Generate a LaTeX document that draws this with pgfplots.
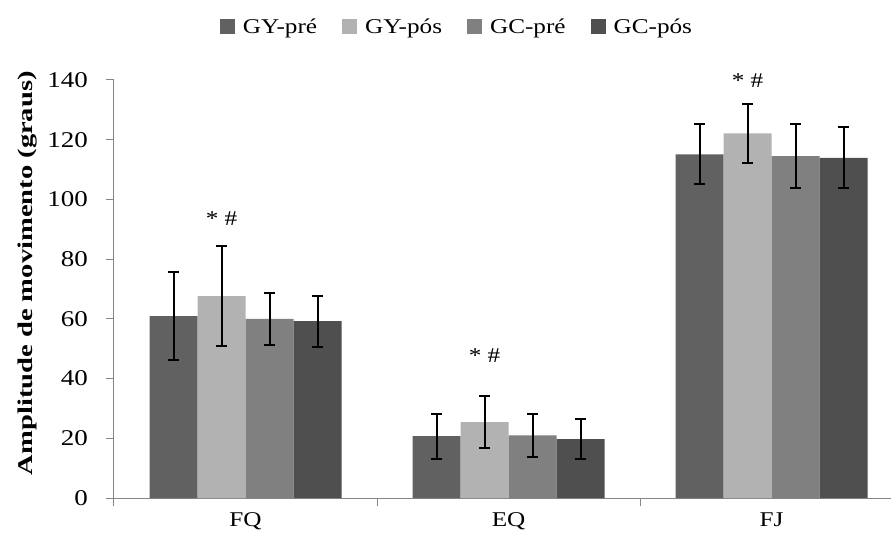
\documentclass[border=0pt]{standalone}
\usepackage{fontspec}
\setmainfont[FakeStretch=1.2]{Liberation Serif}
\newfontfamily\labfont[FakeStretch=1.36]{Liberation Serif}
\usepackage{pgfplots}
\pgfplotsset{compat=1.18}
\definecolor{gypre}{HTML}{616161}
\definecolor{gypos}{HTML}{B2B2B2}
\definecolor{gcpre}{HTML}{808080}
\definecolor{gcpos}{HTML}{4F4F4F}
\definecolor{axgray}{HTML}{868686}
\newcommand\cf{\fontsize{21bp}{25bp}\selectfont}
\begin{document}
\begin{tikzpicture}
\begin{axis}[
    scale only axis,
    width=777bp, height=418bp,
    clip=false,
    ybar=0pt, bar width=0.1825,
    xmin=-0.5, xmax=2.454,
    ymin=0, ymax=140,
    ytick={0,20,...,140},
    xtick={0,1,2}, xticklabels={FQ,EQ,FJ},
    extra x ticks={-0.5,0.5,1.5}, extra x tick labels={},
    major tick length=7.5bp,
    tick align=outside,
    axis lines*=left,
    axis line style={axgray, line width=1bp, -},
    tick style={axgray, line width=1bp},
    xtick style={draw=none},
    extra x tick style={xtick style={draw=axgray, line width=1bp}},
    tick label style={font=\cf},
    /pgf/number format/assume math mode=true,
    yticklabel style={xshift=-15bp, font=\fontsize{22.5bp}{26bp}\selectfont},
    xticklabel style={yshift=-4bp},
    ylabel={\labfont\bfseries Amplitude de movimento (graus)},
    ylabel style={font=\cf, at={(axis description cs:-0.1110,0.538)}, anchor=center},
    legend columns=4,
    legend style={draw=none, font=\cf, at={(axis description cs:0.4414,1.1268)}, anchor=center,
        /tikz/every even column/.append style={column sep=23bp},
        /tikz/every odd column/.append style={column sep=2bp}},
    legend image code/.code={\fill[#1] (0bp,-7.5bp) rectangle (15bp,7.5bp); \path (19bp,0bp);},
    error bars/y dir=both, error bars/y explicit,
    error bars/error bar style={draw=black, line width=2bp},
    error bars/error mark options={rotate=90, mark size=5.5bp, draw=black, line width=2bp},
]
\addplot[fill=gypre, draw=none] coordinates {(0,60.9) +- (0,14.7) (1,20.7) +- (0,7.5) (2,115.1) +- (0,10.0)};
\addlegendentry{GY-pré}
\addplot[fill=gypos, draw=none] coordinates {(0,67.6) +- (0,16.7) (1,25.4) +- (0,8.6) (2,122.1) +- (0,9.9)};
\addlegendentry{GY-pós}
\addplot[fill=gcpre, draw=none] coordinates {(0,60.0) +- (0,8.8) (1,21.0) +- (0,7.2) (2,114.5) +- (0,10.7)};
\addlegendentry{GC-pré}
\addplot[fill=gcpos, draw=none] coordinates {(0,59.2) +- (0,8.6) (1,19.7) +- (0,6.7) (2,113.9) +- (0,10.2)};
\addlegendentry{GC-pós}
\node[font=\cf] at (axis cs:-0.0913,93.6) {* \#};
\node[font=\cf] at (axis cs:0.9087,47.8) {* \#};
\node[font=\cf] at (axis cs:1.9087,139.8) {* \#};
\end{axis}
\pgfresetboundingbox
\path[use as bounding box] ([shift={(-114bp,-47bp)}]current axis.south west) rectangle ([shift={(0bp,80bp)}]current axis.north east);
\end{tikzpicture}
\end{document}
